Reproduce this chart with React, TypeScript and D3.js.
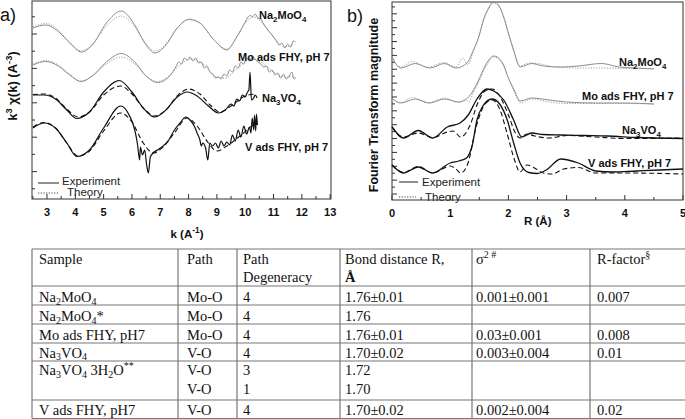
import React from "react";
import * as d3 from "d3";

type Pt = [number, number];

// ---------- Panel a: k^3 chi(k) (arbitrary units, relative to curve offset) ----------
const kTickValues = d3.range(3, 14);
const chiOffsets = [16.7, 13.1, 9.9, 6.8];
const chiLabels = ["Na{2}MoO{4}", "Mo ads FHY, pH 7", "Na{3}VO{4}", "V ads FHY, pH 7"];

const chiExpNa2MoO4: Pt[] = [
  [2.5, 0.4], [2.95, 0.7], [3.4, 0.05], [3.8, -1.1], [4.22, -2.0], [4.6, -1.3], [5.1, 0.9], [5.62, 2.1],
  [6.1, 0.7], [6.45, -1.1], [6.82, -2.1], [7.2, -1.3], [7.6, 0.4], [8.0, 1.25], [8.4, 0.9], [8.9, -0.8],
  [9.35, -1.8], [9.7, -0.5], [10.0, 1.0], [10.1, 1.5], [10.2, 1.65], [10.25, 1.5], [10.35, 1.8], [10.45, 1.4],
  [10.55, 1.3], [10.65, 0.8], [10.8, 0.2], [10.95, -0.3], [11.1, -0.9], [11.2, -1.3], [11.3, -1.1], [11.4, -1.6],
  [11.5, -1.2], [11.6, -1.5], [11.7, -0.9], [11.78, -1.0],
];
const chiThNa2MoO4: Pt[] = [
  [2.5, 0.5], [2.95, 0.85], [3.4, 0.2], [3.8, -1.0], [4.22, -1.9], [4.6, -1.2], [5.1, 0.6], [5.62, 1.6],
  [6.1, 0.5], [6.45, -1.0], [6.82, -1.9], [7.2, -1.2], [7.6, 0.4], [8.05, 1.3], [8.4, 0.9], [8.9, -0.8],
  [9.35, -1.7], [9.7, -0.5], [10.0, 0.9], [10.3, 1.5], [10.6, 0.9], [11.0, -0.5], [11.4, -1.5], [11.7, -1.3],
];
const chiExpMoFHY: Pt[] = [
  [2.5, 0.3], [2.95, 0.65], [3.4, 0.2], [3.8, -0.7], [4.2, -1.35], [4.6, -0.8], [5.1, 0.6], [5.62, 1.45],
  [6.1, 0.6], [6.5, -0.8], [6.9, -1.45], [7.3, -0.9], [7.55, 0.1], [7.65, 0.6], [7.75, 0.4], [7.85, 1.0],
  [7.95, 0.8], [8.05, 1.1], [8.15, 0.7], [8.25, 1.0], [8.35, 0.5], [8.45, 0.6], [8.55, 0.0], [8.65, 0.2],
  [8.75, -0.4], [8.85, -0.6], [8.95, -1.0], [9.05, -0.9], [9.15, -1.1], [9.25, -0.6], [9.35, -0.8], [9.45, -0.2],
  [9.55, -0.4], [9.65, 0.2], [9.75, 0.0], [9.85, 0.6], [9.95, 0.4], [10.05, 1.0], [10.15, 0.7], [10.25, 1.2],
  [10.35, 0.9], [10.45, 0.6], [10.55, 0.4], [10.65, 0.1], [10.75, 0.2], [10.85, -0.4], [10.95, -0.2], [11.05, -0.7],
  [11.15, -0.5], [11.25, -1.0], [11.35, -0.6], [11.45, -1.1], [11.55, -0.8], [11.65, -0.4], [11.72, -1.1], [11.78, -0.9],
];
const chiThMoFHY: Pt[] = [
  [2.5, 0.4], [2.95, 0.75], [3.4, 0.3], [3.8, -0.6], [4.2, -1.3], [4.6, -0.8], [5.1, 0.4], [5.62, 1.1],
  [6.1, 0.4], [6.5, -0.8], [6.9, -1.35], [7.3, -0.8], [7.7, 0.3], [8.1, 0.9], [8.5, 0.4], [9.0, -0.9],
  [9.3, -1.0], [9.7, -0.1], [10.2, 0.9], [10.6, 0.5], [11.0, -0.4], [11.4, -0.9], [11.75, -0.8],
];
const chiExpNa3VO4: Pt[] = [
  [2.5, 0.5], [2.9, 0.5], [3.3, 0.1], [3.7, -1.0], [4.05, -1.85], [4.5, -1.2], [5.0, 0.8], [5.55, 1.95],
  [6.0, 0.8], [6.4, -0.8], [6.8, -1.7], [7.2, -1.0], [7.6, 0.3], [7.95, 0.8], [8.3, 0.4], [8.7, -0.6],
  [9.05, -1.3], [9.3, -1.0], [9.5, -0.4], [9.6, -0.6], [9.7, 0.1], [9.8, -0.1], [9.9, 0.5], [10.0, 0.3],
  [10.08, 0.8], [10.13, 1.0], [10.17, 2.8], [10.22, 0.0], [10.3, 0.2], [10.35, 0.5], [10.42, 0.2],
];
const chiThNa3VO4: Pt[] = [
  [2.5, 0.55], [2.9, 0.6], [3.3, 0.2], [3.7, -0.9], [4.1, -1.7], [4.5, -1.2], [5.0, 0.5], [5.6, 1.4],
  [6.0, 0.6], [6.4, -0.8], [6.8, -1.6], [7.2, -1.0], [7.6, 0.4], [8.0, 1.1], [8.4, 0.6], [8.8, -0.6],
  [9.1, -1.2], [9.5, -0.6], [10.0, 0.4], [10.4, 0.6],
];
const chiExpVFHY: Pt[] = [
  [2.5, 0.3], [2.9, 0.8], [3.3, 0.3], [3.7, -1.2], [4.05, -2.55], [4.5, -1.9], [5.0, 0.3], [5.6, 2.5],
  [5.9, 1.6], [6.1, 0.1], [6.2, -1.4], [6.27, -2.9], [6.3, -1.6], [6.37, -2.4], [6.45, -1.9], [6.52, -3.4],
  [6.58, -4.2], [6.65, -2.6], [6.75, -2.2], [6.9, -1.9], [7.1, -1.5], [7.3, -0.9], [7.5, 0.1], [7.7, 0.8],
  [7.9, 1.4], [8.05, 1.1], [8.2, 0.5], [8.3, -0.2], [8.4, -0.9], [8.45, -1.5], [8.5, -1.2], [8.6, -1.7],
  [8.68, -2.9], [8.75, -1.2], [8.85, -1.5], [8.95, -1.2], [9.05, -1.7], [9.15, -1.0], [9.25, -1.5], [9.35, -1.1],
  [9.45, -1.4], [9.55, -0.4], [9.65, -1.0], [9.75, 0.1], [9.85, -0.6], [9.95, 0.5], [10.05, -0.3], [10.15, 0.4],
  [10.2, -0.2], [10.25, 1.3], [10.3, 0.1], [10.33, 1.6], [10.37, 0.0], [10.4, 1.7], [10.43, 0.6],
];
const chiThVFHY: Pt[] = [
  [2.5, 0.4], [2.9, 0.85], [3.3, 0.3], [3.7, -1.2], [4.1, -2.5], [4.5, -2.0], [5.0, 0.0], [5.6, 1.8],
  [6.0, 0.9], [6.4, -1.2], [6.75, -2.2], [7.1, -1.6], [7.5, -0.2], [7.95, 1.3], [8.3, 0.5], [8.7, -1.2],
  [9.0, -2.0], [9.4, -1.4], [9.9, -0.3], [10.3, 0.6], [10.45, 0.7],
];
const chiExp = [chiExpNa2MoO4, chiExpMoFHY, chiExpNa3VO4, chiExpVFHY];
const chiTh = [chiThNa2MoO4, chiThMoFHY, chiThNa3VO4, chiThVFHY];

// ---------- Panel b: Fourier transform magnitude ----------
const rTickValues = d3.range(0, 6);
const ftOffsets = [13.1, 9.6, 6.1, 2.6];
const ftLabels = chiLabels;

const ftExpNa2MoO4: Pt[] = [
  [0, 1.23], [0.15, 0.1], [0.4, 0.55], [0.65, 0.1], [0.9, 0.55], [1.1, 0.1], [1.29, 0.6], [1.4, 1.9],
  [1.49, 3.2], [1.57, 4.9], [1.66, 6.1], [1.75, 6.73], [1.83, 6.4], [1.92, 5.2], [2.0, 3.6], [2.09, 1.9],
  [2.2, 0.2], [2.4, 0.55], [2.6, 0.3], [2.9, 0.2], [3.2, 0.3], [3.6, 0.55], [3.9, 0.2], [4.2, 0.1], [4.5, 0.0],
];
const ftThNa2MoO4: Pt[] = [
  [0, 1.1], [0.15, 0.2], [0.35, 0.75], [0.6, 0.15], [0.9, 0.65], [1.1, 0.2], [1.22, 1.1], [1.3, 0.4],
  [1.4, 1.8], [1.49, 3.2], [1.57, 4.8], [1.66, 6.0], [1.75, 6.6], [1.83, 6.3], [1.92, 5.1], [2.0, 3.5],
  [2.09, 1.8], [2.2, 0.3], [2.35, 0.6], [2.5, 0.55], [2.8, 0.2], [3.2, 0.1], [3.6, 0.1], [4.0, 0.05], [4.5, 0.05],
];
const ftExpMoFHY: Pt[] = [
  [0, 0.57], [0.15, 0.1], [0.4, 0.5], [0.65, 0.1], [0.9, 0.5], [1.15, 0.2], [1.3, 0.6], [1.4, 1.4],
  [1.49, 2.4], [1.6, 3.8], [1.75, 4.8], [1.9, 4.1], [2.0, 2.6], [2.1, 1.4], [2.2, 0.3], [2.4, 0.6],
  [2.7, 0.4], [3.0, 0.2], [3.5, 0.1], [4.0, 0.1], [4.5, 0.0],
];
const ftThMoFHY: Pt[] = [
  [0, 0.5], [0.15, 0.15], [0.35, 0.65], [0.6, 0.1], [0.9, 0.6], [1.15, 0.15], [1.25, 0.5], [1.32, 0.2],
  [1.4, 1.2], [1.5, 2.3], [1.6, 3.6], [1.75, 4.7], [1.9, 4.0], [2.0, 2.6], [2.1, 1.2], [2.22, 0.1],
  [2.4, 0.5], [2.7, 0.2], [3.0, 0.05], [4.0, 0.05], [4.5, 0.0],
];
const ftExpNa3VO4: Pt[] = [
  [0, 1.23], [0.2, 0.1], [0.45, 0.85], [0.7, 0.1], [0.95, 1.2], [1.17, 1.6], [1.31, 2.4], [1.46, 4.0],
  [1.63, 5.0], [1.75, 4.8], [1.92, 3.9], [2.09, 1.9], [2.23, 0.2], [2.4, 0.6], [2.6, 0.45], [2.9, 0.4],
  [3.3, 0.35], [3.7, 0.3], [4.2, 0.15], [5.0, 0.05],
];
const ftThNa3VO4: Pt[] = [
  [0, 1.15], [0.2, 0.2], [0.45, 0.6], [0.7, 0.15], [0.95, 0.7], [1.05, 0.8], [1.18, 0.2], [1.35, 1.5],
  [1.46, 3.4], [1.6, 4.8], [1.72, 5.0], [1.85, 4.3], [2.0, 2.4], [2.12, 0.6], [2.2, 0.1], [2.32, 0.5],
  [2.45, 0.3], [2.7, 0.1], [3.0, 0.35], [3.5, 0.2], [4.0, 0.05], [5.0, 0.1],
];
const ftExpVFHY: Pt[] = [
  [0, 0.9], [0.2, 0.1], [0.45, 0.7], [0.7, 0.1], [1.0, 1.1], [1.15, 1.3], [1.28, 1.6], [1.38, 2.9],
  [1.46, 5.4], [1.55, 6.7], [1.72, 7.5], [1.85, 7.0], [1.98, 5.4], [2.09, 3.1], [2.2, 1.1], [2.35, 0.15],
  [2.5, 0.05], [2.65, 0.4], [2.9, 1.5], [3.2, 1.1], [3.5, 0.3], [3.8, 0.2], [4.2, 0.3], [4.6, 0.4], [5.0, 0.5],
];
const ftThVFHY: Pt[] = [
  [0, 0.9], [0.2, 0.15], [0.45, 0.75], [0.7, 0.1], [1.0, 0.8], [1.1, 0.5], [1.18, 0.1], [1.3, 1.0],
  [1.45, 4.8], [1.6, 7.0], [1.72, 7.4], [1.85, 6.5], [1.98, 4.0], [2.1, 1.5], [2.2, 0.2], [2.32, 0.9],
  [2.45, 0.6], [2.6, 0.1], [2.75, 0.0], [2.95, 0.5], [3.2, 0.65], [3.5, 0.1], [4.0, 0.1], [5.0, 0.0],
];
const ftExp = [ftExpNa2MoO4, ftExpMoFHY, ftExpNa3VO4, ftExpVFHY];
const ftTh = [ftThNa2MoO4, ftThMoFHY, ftThNa3VO4, ftThVFHY];

// ---------- Table ----------
const tableHeader = [["Sample"], ["Path"], ["Path", "Degeneracy"], ["Bond distance R,", "Å"], ["σ[2 #]"], ["R-factor[§]"]];
const tableSamples = ["Na{2}MoO{4}", "Na{2}MoO{4}*", "Mo ads FHY, pH7", "Na{3}VO{4}", "Na{3}VO{4} 3H{2}O[**]", "", "V ads FHY, pH7"];
const tablePaths = ["Mo-O", "Mo-O", "Mo-O", "V-O", "V-O", "V-O", "V-O"];
const tableDegeneracy = ["4", "4", "4", "4", "3", "1", "4"];
const tableBond = ["1.76±0.01", "1.76", "1.76±0.01", "1.70±0.02", "1.72", "1.70", "1.70±0.02"];
const tableSigma = ["0.001±0.001", "", "0.03±0.001", "0.003±0.004", "", "", "0.002±0.004"];
const tableRfactor = ["0.007", "", "0.008", "0.01", "", "", "0.02"];

// ---------- helpers ----------
type Seg = { t: string; s: "n" | "sub" | "sup" };
function parseRich(str: string): Seg[] {
  const out: Seg[] = [];
  const re = /\{([^}]*)\}|\[([^\]]*)\]|([^{\[]+)/g;
  let m: RegExpExecArray | null;
  while ((m = re.exec(str))) {
    if (m[1] !== undefined) out.push({ t: m[1], s: "sub" });
    else if (m[2] !== undefined) out.push({ t: m[2], s: "sup" });
    else out.push({ t: m[3], s: "n" });
  }
  return out;
}

function Rich(props: { x: number; y: number; text: string; size: number; sub?: number; subDy?: number; supDy?: number; [k: string]: any }) {
  const { x, y, text, size, sub, subDy, supDy, ...rest } = props;
  const segs = parseRich(text);
  const small = sub ?? size * 0.72;
  const sd = subDy ?? size * 0.28;
  const pd = supDy ?? -size * 0.42;
  let cur = 0;
  return (
    <text x={x} y={y} fontSize={size} {...rest}>
      {segs.map((s, i) => {
        const target = s.s === "sub" ? sd : s.s === "sup" ? pd : 0;
        const dy = target - cur;
        cur = target;
        return (
          <tspan key={i} dy={dy} fontSize={s.s === "n" ? size : small}>
            {s.t}
          </tspan>
        );
      })}
    </text>
  );
}

const GRAY = "#8c8c8c";
const GRAY_TH = "#a0a0a0";
const BLACK = "#111";

export default function App() {
  // panel a scales
  const xA = d3.scaleLinear().domain([2.47, 13.03]).range([32, 331]);
  const yA = d3.scaleLinear().domain([0, 19.8]).range([199, 1]);
  // panel b scales
  const xB = d3.scaleLinear().domain([0, 5]).range([392, 683]);
  const yB = d3.scaleLinear().domain([0, 19.8]).range([200, 2]);

  const lineA = (off: number) =>
    d3.line<Pt>().x((d) => xA(d[0])).y((d) => yA(d[1] + off)).curve(d3.curveMonotoneX);
  const lineB = (off: number) =>
    d3.line<Pt>().x((d) => xB(d[0])).y((d) => yB(d[1] + off)).curve(d3.curveMonotoneX);

  const sans = "'Liberation Sans', Arial, sans-serif";
  const serif = "'Liberation Serif', 'Times New Roman', serif";

  const chiLabelPos = [[259, 19], [238, 61], [262, 102], [245, 151]];
  const ftLabelPos = [[619, 66], [582, 100], [622, 134], [588, 167]];

  const aLeftTicks = d3.range(0, 11).map((i) => 1.02 + i * 1.72);
  const bLeftTicks = d3.range(0, 28).map((i) => 0.6 + i * 0.693);

  const colX = [32, 178, 237, 340, 472, 590, 686];
  const rowLines = [249, 286, 305, 324, 343, 361, 400, 418.5];
  const rowBase = [302, 321, 340, 357.5, 375, 394, 415];
  const textX = [39, 187, 243, 345, 476, 597];
  const cols = [tableSamples, tablePaths, tableDegeneracy, tableBond, tableSigma, tableRfactor];
  const tfs = 14.5;

  return (
    <svg width={685} height={419} style={{ position: "absolute", left: 0, top: 0, background: "#fff" }}>
      <rect width={685} height={419} fill="#fff" />
      {/* ---------------- Panel a ---------------- */}
      <text x={0} y={21} fontFamily={sans} fontSize={18} fill="#111">a)</text>
      <rect x={32} y={1} width={299} height={198} fill="none" stroke="#333" strokeWidth={1} />
      {kTickValues.map((k) => (
        <g key={"ka" + k}>
          <line x1={xA(k)} x2={xA(k)} y1={199} y2={194} stroke="#333" />
          <text x={xA(k)} y={216} textAnchor="middle" fontFamily={sans} fontWeight="bold" fontSize={11} fill="#111">{k}</text>
        </g>
      ))}
      {d3.range(2.5, 13, 1).map((k) => (
        <line key={"kam" + k} x1={xA(k)} x2={xA(k)} y1={199} y2={196} stroke="#333" />
      ))}
      {aLeftTicks.map((v, i) => (
        <line key={"al" + i} x1={32} x2={i % 2 === 1 ? 37 : 35} y1={yA(v)} y2={yA(v)} stroke="#333" />
      ))}
      {chiTh.map((d, i) => (
        <path key={"cth" + i} d={lineA(chiOffsets[i])(d) || ""} fill="none"
          stroke={i < 2 ? GRAY_TH : BLACK} strokeWidth={i < 2 ? 1 : 1.1}
          strokeDasharray={i < 2 ? "1.2,1.5" : "5,3"} />
      ))}
      {chiExp.map((d, i) => (
        <path key={"cex" + i} d={lineA(chiOffsets[i])(d) || ""} fill="none"
          stroke={i < 2 ? GRAY : BLACK} strokeWidth={i < 2 ? 1 : 1.2} strokeLinejoin="round" />
      ))}
      {chiLabels.map((l, i) => (
        <Rich key={"cl" + i} x={chiLabelPos[i][0]} y={chiLabelPos[i][1]} text={l} size={11}
          fontFamily={sans} fontWeight="bold" fill="#111" />
      ))}
      <line x1={38} x2={59} y1={183} y2={183} stroke="#222" strokeWidth={1} />
      <text x={62} y={185} fontFamily={sans} fontSize={11.5} fill="#222">Experiment</text>
      <line x1={38} x2={58} y1={193} y2={193} stroke="#444" strokeWidth={1} strokeDasharray="1.2,1.5" />
      <text x={67} y={196} fontFamily={sans} fontSize={11.5} fill="#222">Theory</text>
      <Rich x={0} y={0} text="k[3] χ(k) (A[-3])" size={13} fontFamily={sans} fontWeight="bold" fill="#111"
        textAnchor="middle" transform="translate(17,86) rotate(-90)" />
      <Rich x={187} y={238} text="k (A[-1])" size={11.5} fontFamily={sans} fontWeight="bold" fill="#111" textAnchor="middle" />

      {/* ---------------- Panel b ---------------- */}
      <text x={347} y={22} fontFamily={sans} fontSize={18} fill="#111">b)</text>
      <rect x={392} y={2} width={291} height={198} fill="none" stroke="#333" strokeWidth={1} />
      {rTickValues.map((r) => (
        <g key={"rb" + r}>
          <line x1={xB(r)} x2={xB(r)} y1={200} y2={195} stroke="#333" />
          <text x={xB(r)} y={217} textAnchor="middle" fontFamily={sans} fontWeight="bold" fontSize={11} fill="#111">{r}</text>
        </g>
      ))}
      {d3.range(0.5, 5, 1).map((r) => (
        <line key={"rbm" + r} x1={xB(r)} x2={xB(r)} y1={200} y2={197} stroke="#333" />
      ))}
      {bLeftTicks.map((v, i) => (
        <line key={"bl" + i} x1={392} x2={i % 2 === 0 ? 397 : 395} y1={yB(v)} y2={yB(v)} stroke="#333" />
      ))}
      {ftTh.map((d, i) => (
        <path key={"fth" + i} d={lineB(ftOffsets[i])(d) || ""} fill="none"
          stroke={i < 2 ? GRAY_TH : BLACK} strokeWidth={i < 2 ? 1 : 1.1}
          strokeDasharray={i < 2 ? "1.2,1.5" : "5,3"} />
      ))}
      {ftExp.map((d, i) => (
        <path key={"fex" + i} d={lineB(ftOffsets[i])(d) || ""} fill="none"
          stroke={i < 2 ? GRAY : BLACK} strokeWidth={i < 2 ? 1 : 1.3} />
      ))}
      {ftLabels.map((l, i) => (
        <Rich key={"fl" + i} x={ftLabelPos[i][0]} y={ftLabelPos[i][1]} text={l} size={11}
          fontFamily={sans} fontWeight="bold" fill="#111" />
      ))}
      <line x1={399} x2={418} y1={182} y2={182} stroke="#222" strokeWidth={1} />
      <text x={422} y={186} fontFamily={sans} fontSize={11.5} fill="#222">Experiment</text>
      <line x1={399} x2={416} y1={197} y2={197} stroke="#444" strokeWidth={1} strokeDasharray="1.2,1.5" />
      <text x={425} y={201} fontFamily={sans} fontSize={11.5} fill="#222">Theory</text>
      <text transform="translate(378,105) rotate(-90)" textAnchor="middle" fontFamily={sans} fontWeight="bold"
        fontSize={12.5} fill="#111">Fourier Transform magnitude</text>
      <text x={524} y={225} fontFamily={sans} fontWeight="bold" fontSize={11.5} fill="#111">R (Å)</text>

      {/* ---------------- Table ---------------- */}
      {rowLines.map((y, i) => (
        <line key={"hl" + i} x1={colX[0]} x2={colX[6]} y1={y} y2={y} stroke="#777" strokeWidth={1.2} />
      ))}
      {colX.slice(0, 6).map((x, i) => (
        <line key={"vl" + i} x1={x} x2={x} y1={rowLines[0]} y2={rowLines[rowLines.length - 1]} stroke="#777" strokeWidth={1.2} />
      ))}
      {tableHeader.map((lines, c) =>
        lines.map((t, j) => (
          <Rich key={"th" + c + "_" + j} x={textX[c]} y={264 + j * 18} text={t} size={tfs} sub={10} supDy={-6}
            fontFamily={serif} fill="#111" fontWeight={t === "Å" ? "bold" : "normal"} />
        ))
      )}
      {cols.map((col, c) =>
        col.map((t, r) =>
          t ? (
            <Rich key={"td" + c + "_" + r} x={textX[c]} y={rowBase[r]} text={t} size={tfs} sub={10} subDy={2.5} supDy={-6}
              fontFamily={serif} fill="#111" />
          ) : null
        )
      )}
    </svg>
  );
}
